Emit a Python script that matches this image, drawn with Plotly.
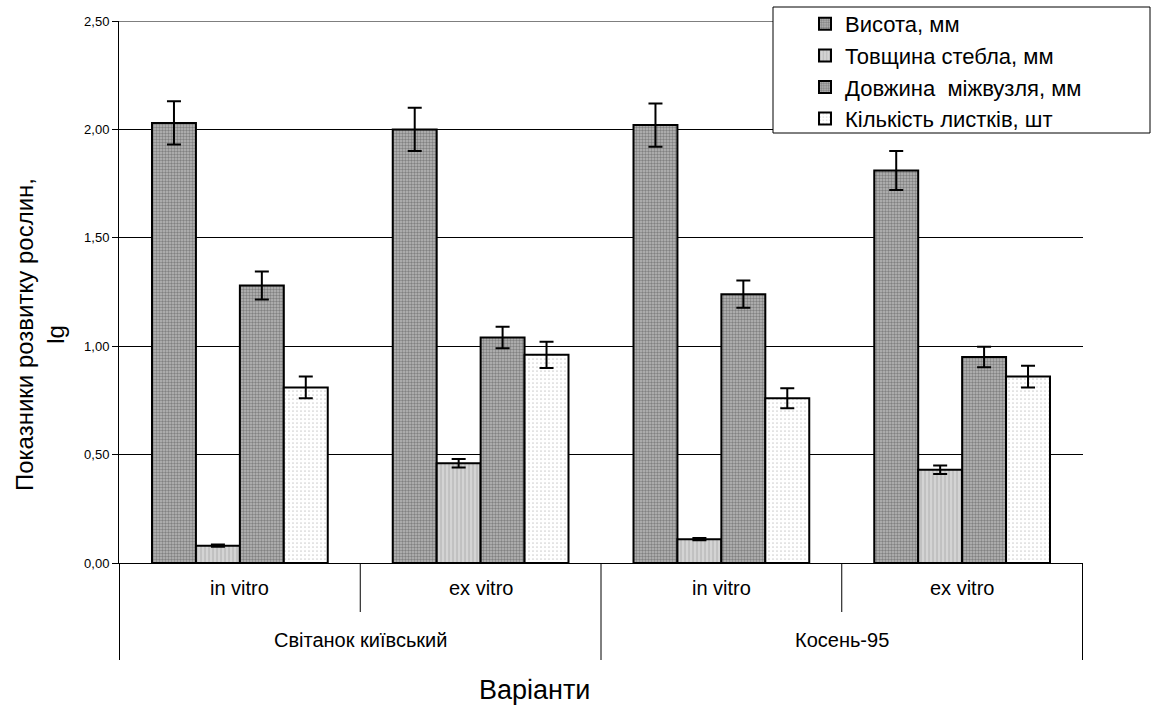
import plotly.graph_objects as go

varieties = ["Світанок київський", "Світанок київський", "Косень-95", "Косень-95"]
conditions = ["in vitro", "ex vitro", "in vitro", "ex vitro"]

series_names = ["Висота, мм", "Товщина стебла, мм", "Довжина  міжвузля, мм", "Кількість листків, шт"]
vysota = [2.03, 2.00, 2.02, 1.81]
vysota_err = [0.10, 0.10, 0.10, 0.09]
tovshchyna = [0.08, 0.46, 0.11, 0.43]
tovshchyna_err = [0.005, 0.02, 0.005, 0.02]
dovzhyna = [1.28, 1.04, 1.24, 0.95]
dovzhyna_err = [0.065, 0.05, 0.063, 0.047]
kilkist = [0.81, 0.96, 0.76, 0.86]
kilkist_err = [0.05, 0.06, 0.046, 0.05]

y_ticks = [0, 0.5, 1.0, 1.5, 2.0, 2.5]

values = [vysota, tovshchyna, dovzhyna, kilkist]
errors = [vysota_err, tovshchyna_err, dovzhyna_err, kilkist_err]
patterns = [
    dict(shape=".", fgcolor="#4a4a4a", bgcolor="#b8b8b8", size=3, solidity=0.5),
    dict(shape="|", fgcolor="#a6a6a6", bgcolor="#d4d4d4", size=4, solidity=0.4),
    dict(shape=".", fgcolor="#4a4a4a", bgcolor="#b8b8b8", size=3, solidity=0.5),
    dict(shape=".", fgcolor="#a0a0a0", bgcolor="#ffffff", size=4, solidity=0.15),
]

FONT = "Liberation Sans, Arial, sans-serif"
W, H = 1151, 706
L, R, T, B = 119, 68, 21, 143
PW, PH = W - L - R, H - T - B


def px_y(p):
    return (H - B - p) / PH


def px_x(p):
    return (p - L) / PW


cats = [f"{v} | {c}" for v, c in zip(varieties, conditions)]

fig = go.Figure()
for i, name in enumerate(series_names):
    fig.add_trace(go.Bar(
        x=cats,
        y=values[i],
        name=name,
        legendgroup=str(i),
        marker=dict(color=patterns[i]["bgcolor"], pattern=patterns[i],
                    line=dict(color="black", width=2)),
        error_y=dict(type="data", array=errors[i], color="black", thickness=2, width=7),
    ))

shapes = []
annotations = []
# top gridline at max tick
shapes.append(dict(type="line", xref="paper", yref="y", x0=0, x1=1, y0=y_ticks[-1], y1=y_ticks[-1],
                   line=dict(color="black", width=1), layer="below"))
# category separators (inner ticks and outer dividers)
n = len(cats)
for k in range(n + 1):
    xb = k - 0.5
    outer = (k == 0 or k == n or varieties[k] != varieties[k - 1])
    shapes.append(dict(type="line", xref="x", yref="paper", x0=xb, x1=xb,
                       y0=0, y1=px_y(660) if outer else px_y(612),
                       line=dict(color="black", width=1)))
# inner labels
for k, c in enumerate(cats):
    annotations.append(dict(x=c, xref="x", y=px_y(588), yref="paper", text=conditions[k],
                            showarrow=False, xanchor="center", yanchor="middle",
                            font=dict(size=20, family=FONT, color="black")))
# outer labels
groups = []
for k, v in enumerate(varieties):
    if not groups or groups[-1][0] != v:
        groups.append([v, k, k])
    else:
        groups[-1][2] = k
for v, a, b in groups:
    annotations.append(dict(x=(a + b) / 2, xref="x", y=px_y(640), yref="paper", text=v,
                            showarrow=False, xanchor="center", yanchor="middle",
                            font=dict(size=20, family=FONT, color="black")))
# axis titles
annotations.append(dict(x=px_x(534), xref="paper", y=px_y(690), yref="paper", text="Варіанти",
                        showarrow=False, xanchor="center", yanchor="middle",
                        font=dict(size=27, family=FONT, color="black")))
annotations.append(dict(x=px_x(40), xref="paper", y=px_y(335), yref="paper",
                        text="Показники розвитку рослин,<br>lg", textangle=-90,
                        showarrow=False, xanchor="center", yanchor="middle",
                        font=dict(size=24, family=FONT, color="black")))
# legend frame
shapes.append(dict(type="rect", xref="paper", yref="paper",
                   x0=px_x(773), x1=px_x(1150), y0=px_y(133), y1=px_y(7),
                   line=dict(color="black", width=1), fillcolor="white", layer="above"))

fig.update_layout(
    width=W, height=H,
    margin=dict(l=L, r=R, t=T, b=B, autoexpand=False),
    paper_bgcolor="white", plot_bgcolor="white",
    separators=", ",
    barmode="group", bargap=0.27, bargroupgap=0,
    font=dict(family=FONT, color="black"),
    showlegend=True,
    legend=dict(
        x=px_x(805), y=px_y(3), xref="paper", yref="paper", xanchor="left", yanchor="top",
        font=dict(size=22, family=FONT, color="black"),
        bgcolor="rgba(0,0,0,0)", borderwidth=0,
        tracegroupgap=0,
        itemwidth=30,
    ),
    shapes=shapes,
    annotations=annotations,
)

fig.update_yaxes(
    range=[y_ticks[0], y_ticks[-1]], tickvals=y_ticks, tickformat=".2f",
    showgrid=True, gridcolor="black", gridwidth=1,
    showline=True, linecolor="black", linewidth=1,
    ticks="outside", ticklen=6, tickcolor="black",
    tickfont=dict(size=13, family=FONT, color="black"),
    zeroline=False, automargin=False,
)
fig.update_xaxes(
    type="category",
    showline=True, linecolor="black", linewidth=1,
    ticks="", showticklabels=False, showgrid=False, automargin=False,
)

fig.write_html("out.html")
